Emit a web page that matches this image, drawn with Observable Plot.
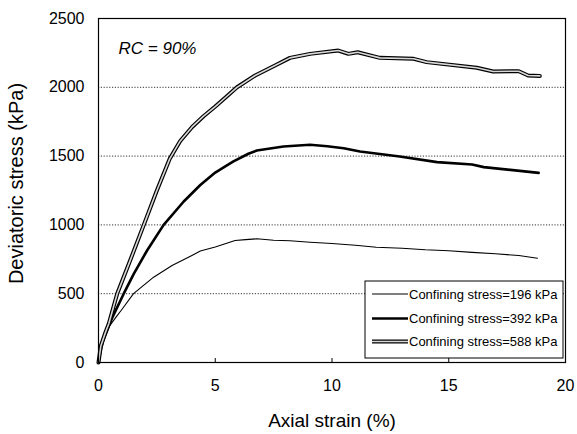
<!DOCTYPE html>
<html>
<head>
<meta charset="utf-8">
<script src="https://cdn.jsdelivr.net/npm/d3@7"></script>
<script src="https://cdn.jsdelivr.net/npm/@observablehq/plot@0.6"></script>
<style>
  body { margin: 0; background: #fff; }
</style>
</head>
<body>
<div id="chart"></div>
<script>
// Triaxial test results, RC = 90%: deviatoric stress vs axial strain
const strain196 = [0, 0.05, 0.18, 0.45, 0.75, 1.0, 1.5, 2.36, 3.15, 4.0, 4.36, 5.0, 5.85, 6.3, 6.78, 7.5, 8.2, 9.06, 10.0, 11.0, 11.9, 13.0, 14.0, 15.0, 16.0, 17.0, 18.0, 18.8];
const stress196 = [0, 70, 150, 260, 330, 385, 500, 620, 705, 778, 810, 840, 887, 893, 899, 888, 885, 874, 865, 852, 838, 830, 819, 812, 800, 790, 778, 758];

const strain392 = [0, 0.08, 0.2, 0.6, 1.08, 1.51, 2.08, 2.79, 3.65, 4.36, 5.0, 5.43, 5.78, 6.42, 6.78, 7.92, 9.06, 9.8, 10.5, 11.2, 12.9, 14.5, 16.0, 16.5, 18.85];
const stress392 = [0, 80, 160, 330, 500, 644, 814, 1000, 1170, 1290, 1380, 1425, 1462, 1517, 1541, 1570, 1582, 1572, 1557, 1533, 1497, 1456, 1439, 1420, 1378];

const strain588 = [0, 0.1, 0.3, 0.44, 0.8, 1.3, 1.94, 2.5, 3.05, 3.5, 4.0, 4.5, 5.0, 5.5, 5.93, 6.71, 7.56, 8.2, 9.06, 10.27, 10.7, 11.1, 12.05, 13.5, 14.05, 16.2, 16.9, 18.0, 18.4, 18.9];
const stress588 = [0, 120, 220, 281, 500, 717, 1000, 1250, 1480, 1610, 1710, 1790, 1860, 1935, 2000, 2086, 2158, 2214, 2243, 2267, 2243, 2255, 2214, 2207, 2183, 2142, 2115, 2117, 2086, 2083];

const xTicks = [0, 5, 10, 15, 20];
const yTicks = [0, 500, 1000, 1500, 2000, 2500];
const gridY = [500, 1000, 1500, 2000];
const legendLabels = ["Confining stress=196 kPa", "Confining stress=392 kPa", "Confining stress=588 kPa"];

const toRows = (xs, ys) => xs.map((s, i) => ({strain: s, stress: ys[i]}));
const d196 = toRows(strain196, stress196);
const d392 = toRows(strain392, stress392);
const d588 = toRows(strain588, stress588);

const W = 577, H = 434, mL = 98, mR = 12, mT = 18, mB = 72;
const plotH = H - mT - mB;
const plain = d => String(d);

const plot = Plot.plot({
  width: W,
  height: H,
  marginLeft: mL,
  marginRight: mR,
  marginTop: mT,
  marginBottom: mB,
  style: {fontFamily: "'Liberation Sans', Arial, sans-serif", background: "#fff", color: "#000"},
  x: {domain: [0, 20]},
  y: {domain: [0, 2500]},
  marks: [
    Plot.ruleY(gridY, {stroke: "#333", strokeWidth: 1, strokeDasharray: "1.2,1.6"}),
    Plot.line(d196, {x: "strain", y: "stress", stroke: "#000", strokeWidth: 1.1}),
    Plot.line(d392, {x: "strain", y: "stress", stroke: "#000", strokeWidth: 2.6}),
    Plot.line(d588, {x: "strain", y: "stress", stroke: "#000", strokeWidth: 4}),
    Plot.line(d588, {x: "strain", y: "stress", stroke: "#d8d8d8", strokeWidth: 1.6}),
    Plot.frame({stroke: "#000", strokeWidth: 1.2}),
    Plot.ruleX(xTicks.slice(1, -1), {stroke: "#000", insetTop: plotH - 4}),
    Plot.axisX({ticks: xTicks, tickFormat: plain, tickSize: 0, tickPadding: 17, fontSize: 16, label: null}),
    Plot.axisY({ticks: yTicks, tickFormat: plain, tickSize: 0, tickPadding: 14, fontSize: 16, label: null}),
    Plot.text(["RC = 90%"], {frameAnchor: "top-left", dx: 20, dy: 30, textAnchor: "start", lineAnchor: "middle", fontStyle: "italic", fontSize: 17}),
    Plot.text(["Axial strain (%)"], {frameAnchor: "bottom", dy: 58, textAnchor: "middle", lineAnchor: "middle", fontSize: 19}),
    Plot.text(["Deviatoric stress (kPa)"], {frameAnchor: "left", dx: -82, dy: -7, rotate: -90, textAnchor: "middle", lineAnchor: "middle", fontSize: 20})
  ]
});

// Legend box in the lower-right corner of the plot area
const xs = plot.scale("x"), ys = plot.scale("y");
const right = xs.range[1], bottom = ys.range[0];
const boxW = 198, boxH = 77;
const g = d3.select(plot).append("g")
  .attr("transform", `translate(${right - 2 - boxW},${bottom - 4 - boxH})`)
  .attr("text-anchor", "start");
g.append("rect").attr("width", boxW).attr("height", boxH)
  .attr("fill", "#fff").attr("stroke", "#000").attr("stroke-width", 1);
const rowY = [13, 37.5, 60.5];
const swatch = [
  [{w: 1.1, c: "#000"}],
  [{w: 2.6, c: "#000"}],
  [{w: 4, c: "#000"}, {w: 1.6, c: "#d8d8d8"}]
];
legendLabels.forEach((lab, i) => {
  swatch[i].forEach(s => {
    g.append("line").attr("x1", 7).attr("x2", 43).attr("y1", rowY[i]).attr("y2", rowY[i])
      .attr("stroke", s.c).attr("stroke-width", s.w);
  });
  g.append("text").attr("x", 44).attr("y", rowY[i]).attr("dy", "0.35em")
    .attr("text-anchor", "start").attr("font-size", 13).attr("fill", "#000").text(lab);
});

document.getElementById("chart").append(plot);
</script>
</body>
</html>
